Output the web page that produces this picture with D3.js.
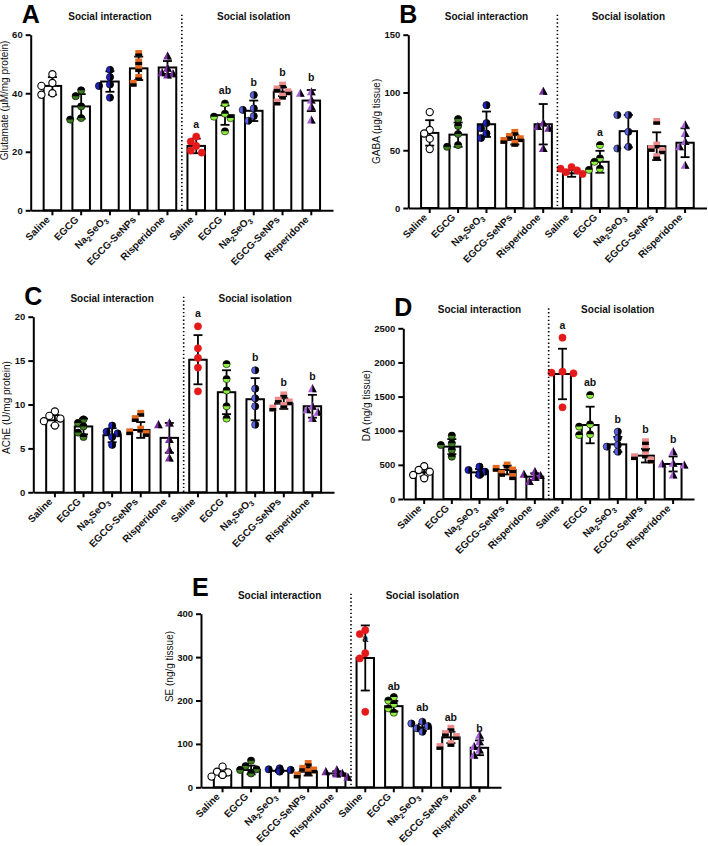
<!DOCTYPE html>
<html>
<head>
<meta charset="utf-8">
<script src="https://cdn.jsdelivr.net/npm/d3@7"></script>
<style>
  body { margin: 0; background: #fff; }
  svg { display: block; font-family: Arial, "Liberation Sans", sans-serif; }
</style>
</head>
<body>
<svg id="fig" width="708" height="846"></svg>
<script>
// categories
const groups = ["Saline", "EGCG", "Na2SeO3", "EGCG-SeNPs", "Risperidone"];
const conditions = ["Social interaction", "Social isolation"];
const shapes = ["circle", "circle", "circle", "square", "triangle"];
const siColors = ["#ffffff", "#3e7d1f", "#1c22c4", "#e4681e", "#7a2ea3"];
const isoColors = ["#e41a1a", "#8ef03e", "#5a62e4", "#ec8b8b", "#a65fd6"];

// A - glutamate
const gluTicks = [0, 20, 40, 60];
const gluMean = [42.5, 35.5, 44, 48.5, 48.8, 22, 32.5, 34, 40.5, 37.5];
const gluSd = [3, 4.2, 3.5, 4, 2.2, 2.5, 3.3, 3.5, 1.5, 3.6];
const gluPts = [
  [46.5, 43.5, 42.5, 40, 39.5], [41, 39, 35.5, 31.5, 31], [48, 45.5, 43, 42.5, 38.5],
  [53.6, 50.7, 48.4, 45.4, 43.4], [52.7, 48.5, 47, 46.6, 46.2],
  [25.2, 23.5, 22, 20.4, 19.7], [36.5, 33, 32, 31.5, 27], [39.4, 34.8, 34.3, 32.2, 30.6],
  [42.8, 41.5, 40.5, 39, 37], [40.5, 40, 37.7, 35.4, 30.8]
];
const gluLetters = ["", "", "", "", "", "a", "ab", "b", "b", "b"];

// B - GABA
const gabaTicks = [0, 50, 100, 150];
const gabaMean = [65, 63.5, 72.5, 59, 72.5, 30, 40, 66.5, 53.5, 56.5];
const gabaSd = [11, 10.5, 11, 4, 17.5, 3, 9.5, 14, 12, 12.5];
const gabaPts = [
  [83, 67.5, 64.5, 60, 51], [77, 71, 64, 54.5, 53], [89, 73.5, 69, 64.5, 60.5],
  [65.5, 62, 60, 58.5, 56], [101, 73.5, 70.5, 69, 51.5],
  [35.5, 34, 32.5, 31, 29.5], [54.5, 43, 40, 34, 33], [80.5, 80.5, 66, 53, 51.5],
  [75, 54.5, 51.5, 49.5, 44.5], [72, 64.5, 57.5, 53, 37]
];
const gabaLetters = ["", "", "", "", "", "", "a", "", "", ""];

// C - AChE
const acheTicks = [0, 5, 10, 15, 20];
const acheMean = [8.2, 7.5, 6.5, 7.1, 6.2, 15.1, 11.4, 10.6, 10.1, 9.8];
const acheSd = [0.6, 0.9, 0.8, 0.9, 1.7, 2.8, 2.5, 2.4, 0.6, 1.3];
const achePts = [
  [9.2, 8.7, 8.4, 8.1, 7.6], [8.3, 7.9, 7.5, 6.8, 6.3], [7.6, 6.9, 6.7, 6.3, 5.4],
  [9, 8.4, 7.2, 6.9, 6.7], [7.9, 7.7, 6, 4.8, 3.9],
  [18.9, 16.4, 15.3, 14.2, 11.5], [14.6, 12.9, 11.6, 9.8, 8.4], [13.9, 11.8, 10.7, 9.8, 7.7],
  [11.1, 10.5, 10.3, 9.9, 9.6], [11.8, 9.8, 9.4, 9.1, 8.4]
];
const acheLetters = ["", "", "", "", "", "a", "", "b", "b", "b"];

// D - DA
const daTicks = [0, 500, 1000, 1500, 2000, 2500];
const daMean = [390, 767, 390, 425, 327, 1831, 1084, 800, 635, 513];
const daSd = [60, 110, 50, 65, 50, 370, 268, 110, 100, 110];
const daPts = [
  [480, 425, 400, 352, 303], [928, 815, 791, 718, 620], [474, 425, 400, 376, 352],
  [498, 450, 425, 376, 327], [400, 361, 342, 317, 254],
  [2363, 1865, 1850, 1841, 1343], [1523, 1094, 1060, 947, 937], [986, 889, 791, 767, 693],
  [840, 742, 645, 620, 571], [693, 522, 513, 498, 352]
];
const daLetters = ["", "", "", "", "", "a", "ab", "b", "b", "b"];

// E - SE
const seTicks = [0, 100, 200, 300, 400];
const seMean = [34, 40, 38, 36, 32, 298, 187, 138, 115, 91];
const seSd = [8, 10, 3, 9, 5, 75, 12, 8, 13, 17];
const sePts = [
  [47.6, 36, 34.5, 28.4, 24.6], [61.4, 49, 41.5, 40, 32], [43.8, 41.5, 40, 38.4, 36],
  [55, 43.8, 40, 36, 28.4], [40, 36, 32, 30.7, 23],
  [362, 353, 309, 297, 174], [208, 200, 192, 182, 172], [151, 147, 141, 136, 128],
  [136, 124, 117, 101, 94], [120, 105, 94, 86, 74]
];
const seLetters = ["", "", "", "", "", "a", "ab", "ab", "ab", "b"];

const panels = [
  { tag: "A", title: "Glutamate (\u00b5M/mg protein)", ticks: gluTicks, mean: gluMean, sd: gluSd, pts: gluPts, letters: gluLetters,
    x0: 30.7, x1: 333, y0: 210.3, y1: 34.7, titleShift: -22 },
  { tag: "B", title: "GABA (\u00b5g/g tissue)", ticks: gabaTicks, mean: gabaMean, sd: gabaSd, pts: gabaPts, letters: gabaLetters,
    x0: 408.3, x1: 706.5, y0: 208, y1: 34.7, titleShift: 0 },
  { tag: "C", title: "AChE (U/mg protein)", ticks: acheTicks, mean: acheMean, sd: acheSd, pts: achePts, letters: acheLetters,
    x0: 33.3, x1: 334, y0: 492.3, y1: 316.7, titleShift: 3 },
  { tag: "D", title: "DA (ng/g tissue)", ticks: daTicks, mean: daMean, sd: daSd, pts: daPts, letters: daLetters,
    x0: 403.3, x1: 694, y0: 499, y1: 328.3, titleShift: -8 },
  { tag: "E", title: "SE (ng/g tissue)", ticks: seTicks, mean: seMean, sd: seSd, pts: sePts, letters: seLetters,
    x0: 201, x1: 501, y0: 787.3, y1: 613.7, titleShift: -34, inside: true }
];

const svg = d3.select("#fig");

// half black / half coloured symbols like GraphPad
function drawMarker(g, shape, color, gi, iso) {
  const r = 3.6;
  if (shape === "circle") {
    g.append("circle").attr("r", r).attr("fill", color);
    if (gi === 1) {
      g.append("path").attr("d", `M${-r},0A${r},${r} 0 0 1 ${r},0Z`).attr("fill", "#000");
    } else if (gi === 2) {
      g.append("path").attr("d", `M0,${-r}A${r},${r} 0 0 1 0,${r}Z`).attr("fill", "#000");
    }
    g.append("circle").attr("r", r).attr("fill", "none")
      .attr("stroke", gi === 0 && iso ? color : "#000")
      .attr("stroke-width", gi === 0 && !iso ? 1.1 : 0.6);
  } else if (shape === "square") {
    const h = 3.4;
    g.append("rect").attr("x", -h).attr("y", -h).attr("width", 2 * h).attr("height", 2 * h).attr("fill", color);
    g.append("rect").attr("x", -h).attr("y", 0).attr("width", 2 * h).attr("height", h).attr("fill", "#000");
  } else {
    const t = 4.6;
    g.append("path").attr("d", `M0,${-t}L${0.95 * t},${0.75 * t}L${-0.95 * t},${0.75 * t}Z`).attr("fill", color);
    g.append("path").attr("d", `M0,${-t}L${0.95 * t},${0.75 * t}L0,${0.75 * t}Z`).attr("fill", "#000");
  }
}

function drawPanel(p) {
  const g = svg.append("g");
  const x = d3.scaleBand().domain(d3.range(10)).range([p.x0, p.x1])
    .paddingInner(0.39).paddingOuter(0.45);
  const y = d3.scaleLinear().domain([0, d3.max(p.ticks)]).range([p.y0, p.y1]);
  const bw = x.bandwidth();
  const cx = i => x(i) + bw / 2;

  // bars
  g.selectAll("rect.bar").data(p.mean).join("rect")
    .attr("class", "bar")
    .attr("x", (d, i) => x(i))
    .attr("y", d => y(d))
    .attr("width", bw)
    .attr("height", d => p.y0 - y(d))
    .attr("fill", "#fff")
    .attr("stroke", "#000")
    .attr("stroke-width", 2);

  // error bars
  const eb = g.selectAll("g.err").data(p.mean).join("g").attr("class", "err")
    .attr("stroke", "#000").attr("stroke-width", 1.8);
  eb.append("line")
    .attr("x1", (d, i) => cx(i)).attr("x2", (d, i) => cx(i))
    .attr("y1", (d, i) => y(d - p.sd[i])).attr("y2", (d, i) => y(d + p.sd[i]));
  eb.append("line")
    .attr("x1", (d, i) => cx(i) - 4.5).attr("x2", (d, i) => cx(i) + 4.5)
    .attr("y1", (d, i) => y(d + p.sd[i])).attr("y2", (d, i) => y(d + p.sd[i]));
  eb.append("line")
    .attr("x1", (d, i) => cx(i) - 4.5).attr("x2", (d, i) => cx(i) + 4.5)
    .attr("y1", (d, i) => y(d - p.sd[i])).attr("y2", (d, i) => y(d - p.sd[i]));

  // scatter points, spread sideways when they collide
  p.pts.forEach((vals, i) => {
    const gi = i % 5, iso = i >= 5;
    const color = iso ? isoColors[gi] : siColors[gi];
    const placed = [];
    vals.forEach(v => {
      const py = y(v);
      const offs = [0, -5.5, 5.5, -11, 11];
      let off = offs.find(o => placed.every(q => Math.hypot(q[0] - o, q[1] - py) > 6.5));
      if (off === undefined) off = 0;
      placed.push([off, py]);
      const m = g.append("g").attr("transform", `translate(${cx(i) + off},${py})`);
      drawMarker(m, shapes[gi], color, gi, iso);
    });
  });

  // axes
  const ya = g.append("g").attr("transform", `translate(${p.x0},0)`)
    .call(d3.axisLeft(y).tickValues(p.ticks).tickFormat(d3.format("d"))
      .tickSize(5).tickSizeOuter(0).tickPadding(3));
  ya.select(".domain").attr("stroke-width", 2);
  ya.selectAll(".tick line").attr("stroke-width", 2);
  ya.selectAll(".tick text").attr("font-size", 9.5).attr("font-weight", "bold")
    .attr("font-family", "Arial, 'Liberation Sans', sans-serif").attr("fill", "#111");
  let labW = 0;
  ya.selectAll(".tick text").each(function () { labW = Math.max(labW, this.getBBox().width); });

  const xa = g.append("g").attr("transform", `translate(0,${p.y0})`)
    .call(d3.axisBottom(x).tickSize(5).tickSizeOuter(0).tickFormat(""));
  xa.select(".domain").attr("stroke-width", 2);
  xa.selectAll(".tick line").attr("stroke-width", 2);

  // category labels
  d3.range(10).forEach(i => {
    const name = groups[i % 5];
    const t = g.append("text")
      .attr("transform", `translate(${cx(i) - 2},${p.y0 + 10}) rotate(-45)`)
      .attr("text-anchor", "end")
      .attr("font-size", 10).attr("font-weight", "bold").attr("fill", "#111");
    if (name === "Na2SeO3") {
      t.append("tspan").text("Na");
      t.append("tspan").attr("dy", 2.6).attr("font-size", 7.5).text("2");
      t.append("tspan").attr("dy", -2.6).text("SeO");
      t.append("tspan").attr("dy", 2.6).attr("font-size", 7.5).text("3");
    } else {
      t.text(name);
    }
  });

  // dotted divider between the two conditions
  const xd = (x(4) + bw + x(5)) / 2;
  g.append("line").attr("x1", xd).attr("x2", xd).attr("y1", p.y1 - 20).attr("y2", p.y0)
    .attr("stroke", "#000").attr("stroke-width", 1.6).attr("stroke-dasharray", "1.4,2.4");

  // condition titles
  conditions.forEach((c, k) => {
    g.append("text")
      .attr("x", (cx(k * 5) + cx(k * 5 + 4)) / 2).attr("y", p.y1 - 15)
      .attr("text-anchor", "middle").attr("font-size", 10).attr("font-weight", "bold")
      .attr("fill", "#111").text(c);
  });

  // significance letters
  p.letters.forEach((l, i) => {
    if (!l) return;
    let ly;
    if (p.inside) ly = y(p.mean[i]) - 16;
    else ly = y(Math.max(d3.max(p.pts[i]), p.mean[i] + p.sd[i])) - 9;
    g.append("text").attr("x", cx(i)).attr("y", ly)
      .attr("text-anchor", "middle").attr("font-size", 10.5).attr("font-weight", "bold")
      .attr("fill", "#111").text(l);
  });

  // panel tag
  g.append("text").attr("x", p.x0 - 9).attr("y", p.tag === "E" ? p.y1 - 18 : p.y1 - 12)
    .attr("font-size", 25).attr("font-weight", "bold").text(p.tag);

  // y title
  g.append("text")
    .attr("transform", `translate(${p.x0 - labW - 12},${(p.y0 + p.y1) / 2 + p.titleShift}) rotate(-90)`)
    .attr("text-anchor", "middle").attr("font-size", 10).attr("fill", "#111")
    .text(p.title);
}

panels.forEach(drawPanel);
</script>
</body>
</html>
